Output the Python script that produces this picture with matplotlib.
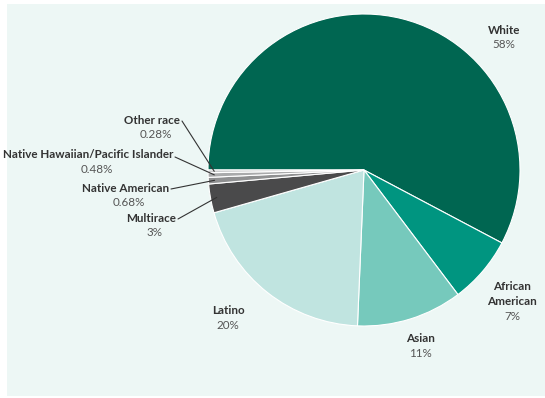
import matplotlib.pyplot as plt
import matplotlib
import numpy as np
from matplotlib.patches import Rectangle

W, H = 545, 398

groups = ["White", "African\nAmerican", "Asian", "Latino", "Multirace",
          "Native American", "Native Hawaiian/Pacific Islander", "Other race"]
shares = [58, 7, 11, 20, 3, 0.68, 0.48, 0.28]
share_labels = ["58%", "7%", "11%", "20%", "3%", "0.68%", "0.48%", "0.28%"]
colors = ["#006651", "#009580", "#76c9bc", "#c0e4e0", "#4a4a4b",
          "#8f9091", "#a9aaab", "#cbcccd"]

plt.rcParams['font.family'] = ['Lato', 'DejaVu Sans']


def px(x, y):
    return x / W, 1 - y / H


fig = plt.figure(figsize=(W / 100, H / 100), dpi=100)
fig.patches.append(Rectangle(px(7, 396), (W - 7) / W, 392 / H,
                             transform=fig.transFigure, facecolor="#edf7f5",
                             edgecolor="none", zorder=-1))

# pie axes, square in pixels, centred at (364, 170) with radius 156
cx, cy, r = 364, 170, 156
ax = fig.add_axes([(cx - r) / W, (H - cy - r) / H, 2 * r / W, 2 * r / H])
ax.set_facecolor("none")
wedges, _ = ax.pie(shares, colors=colors, startangle=180, counterclock=False,
                   radius=1, wedgeprops=dict(edgecolor="white", linewidth=0.8))
ax.set_xlim(-1, 1)
ax.set_ylim(-1, 1)
ax.axis("off")

# label blocks: name x, first line y, alignment, pct x, leader start
label_pos = {
    0: (504, 30, "center", 504, None),
    1: (512, 287, "center", 512, None),
    2: (420, 339, "center", 420, None),
    3: (228, 311, "center", 228, None),
    4: (176, 218, "right", 155, (178, 219)),
    5: (169, 188, "right", 129, (171, 189)),
    6: (173, 155, "right", 97, (175, 157)),
    7: (180, 120, "right", 156, (182, 121)),
}

step = 14.5
for i, (x, y, ha, xp, lead) in label_pos.items():
    name = groups[i]
    for k, line in enumerate(name.split("\n")):
        fig.text(*px(x, y + step * k), line, ha=ha, va="center",
                 fontsize=8.4, fontweight="bold", color="#333333")
    nlines = name.count("\n") + 1
    fig.text(*px(xp, y + step * nlines), share_labels[i], ha="center",
             va="center", fontsize=8.4, color="#555555")
    if lead is not None:
        w = wedges[i]
        ang = np.deg2rad((w.theta1 + w.theta2) / 2)
        tip = (0.96 * np.cos(ang), 0.96 * np.sin(ang))
        ax.annotate("", xy=tip, xycoords="data",
                    xytext=px(*lead), textcoords="figure fraction",
                    arrowprops=dict(arrowstyle="-", color="#333333", lw=0.8,
                                    shrinkA=0, shrinkB=0),
                    annotation_clip=False)

fig.savefig("out.png", dpi=100)
